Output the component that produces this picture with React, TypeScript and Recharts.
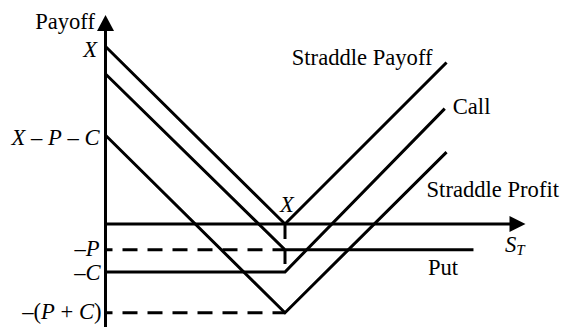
import React from 'react';
import { LineChart, Line, XAxis, YAxis, ReferenceLine, ReferenceDot } from 'recharts';

const FONT = "'Liberation Serif', 'Times New Roman', Times, serif";
const INK = '#000';

// Values in units where the strike price X = 10
const strikeX = 10;
const putLevel = -1.45; // −P
const callLevel = -2.7; // −C
const totalLevel = -5; // −(P + C)
const payoffAtZero = 10; // X
const profitAtZero = 5; // X − P − C

const straddlePayoff = [
  { s: 0, v: 10 },
  { s: 10, v: 0 },
  { s: 19, v: 9.1 },
];
const putLine = [
  { s: 0, v: 8.45 },
  { s: 10, v: -1.45 },
  { s: 20.5, v: -1.45 },
];
const callLine = [
  { s: 0, v: -2.7 },
  { s: 10, v: -2.7 },
  { s: 18.9, v: 6.5 },
];
const straddleProfit = [
  { s: 0, v: 5 },
  { s: 10, v: -5 },
  { s: 19, v: 4.05 },
];
const dashPut = [
  { s: 0, v: -1.45 },
  { s: 10, v: -1.45 },
];
const dashTotal = [
  { s: 0, v: -5 },
  { s: 10, v: -5 },
];
const dashStrike = [
  { s: 10, v: 0 },
  { s: 10, v: -2.7 },
];

const xAxisEnd = 23.4;
const yAxisTop = 11.77;
const yAxisBottom = -6;

const seriesNames = ['Straddle Payoff', 'Call', 'Straddle Profit', 'Put'];
const axisNames = ['Payoff'];

const FS = 22.6;

const I = ({ children }: any) => <tspan fontStyle="italic">{children}</tspan>;

const textShape =
  (dx: number, dy: number, anchor: string, content: any, size = FS) =>
  (p: any) => (
    <text
      x={p.cx + dx}
      y={p.cy + dy}
      textAnchor={anchor}
      fontFamily={FONT}
      fontSize={size}
      fill={INK}
    >
      {content}
    </text>
  );

const lineProps = {
  type: 'linear' as const,
  dataKey: 'v',
  stroke: INK,
  strokeWidth: 3,
  dot: false,
  activeDot: false,
  isAnimationActive: false,
  strokeLinecap: 'butt' as const,
  strokeLinejoin: 'miter' as const,
};

export default function App() {
  return (
    <div style={{ width: 565, height: 327, background: '#fff' }}>
      <style>{'body{margin:0}'}</style>
      <LineChart
        width={565}
        height={327}
        margin={{ top: 2.125, right: 10.75, bottom: 5.375, left: 105.5 }}
      >
        <XAxis type="number" dataKey="s" domain={[0, 25]} hide allowDataOverflow />
        <YAxis type="number" domain={[-5.5, 12.5]} hide allowDataOverflow />

        <ReferenceLine
          segment={[
            { x: 0, y: yAxisBottom },
            { x: 0, y: yAxisTop - 0.9 },
          ]}
          stroke={INK}
          strokeWidth={3}
          ifOverflow="visible"
        />
        <ReferenceLine
          segment={[
            { x: 0, y: 0 },
            { x: xAxisEnd - 0.85, y: 0 },
          ]}
          stroke={INK}
          strokeWidth={3}
          ifOverflow="visible"
        />

        <Line {...lineProps} data={dashPut} strokeDasharray="15 10" strokeDashoffset={8} />
        <Line {...lineProps} data={dashTotal} strokeDasharray="15 10" strokeDashoffset={8} />
        <Line {...lineProps} data={dashStrike} strokeDasharray="15 10" />

        <Line {...lineProps} data={straddlePayoff} />
        <Line {...lineProps} data={putLine} />
        <Line {...lineProps} data={callLine} />
        <Line {...lineProps} data={straddleProfit} />

        {/* arrow heads */}
        <ReferenceDot
          x={0}
          y={yAxisTop}
          r={0}
          shape={(p: any) => (
            <polygon
              points={`${p.cx},${p.cy} ${p.cx - 8.5},${p.cy + 16} ${p.cx + 8.5},${p.cy + 16}`}
              fill={INK}
            />
          )}
        />
        <ReferenceDot
          x={xAxisEnd}
          y={0}
          r={0}
          shape={(p: any) => (
            <polygon
              points={`${p.cx},${p.cy} ${p.cx - 16},${p.cy - 8} ${p.cx - 16},${p.cy + 8}`}
              fill={INK}
            />
          )}
        />

        {/* axis labels */}
        <ReferenceDot x={0} y={yAxisTop} r={0} shape={textShape(-10.5, 14, 'end', axisNames[0])} />
        <ReferenceDot
          x={xAxisEnd}
          y={0}
          r={0}
          shape={textShape(
            -20.5,
            28,
            'start',
            <>
              <I>S</I>
              <tspan fontStyle="italic" fontSize={15} dy={3}>
                T
              </tspan>
            </>
          )}
        />

        {/* y tick labels */}
        <ReferenceDot x={0} y={payoffAtZero} r={0} shape={textShape(-8.5, 10, 'end', <I>X</I>)} />
        <ReferenceDot
          x={0}
          y={profitAtZero}
          r={0}
          shape={textShape(
            -6,
            10,
            'end',
            <>
              <I>X</I>
              {' – '}
              <I>P</I>
              {' – '}
              <I>C</I>
            </>
          )}
        />
        <ReferenceDot
          x={0}
          y={putLevel}
          r={0}
          shape={textShape(-6, 6.5, 'end', <>{'–'}<I>P</I></>)}
        />
        <ReferenceDot
          x={0}
          y={callLevel}
          r={0}
          shape={textShape(-5, 8, 'end', <>{'–'}<I>C</I></>)}
        />
        <ReferenceDot
          x={0}
          y={totalLevel}
          r={0}
          shape={textShape(
            -4,
            6.5,
            'end',
            <>
              {'–('}
              <I>P</I>
              {' + '}
              <I>C</I>
              {')'}
            </>
          )}
        />
        <ReferenceDot x={strikeX} y={0} r={0} shape={textShape(2, -12, 'middle', <I>X</I>)} />

        {/* series labels */}
        <ReferenceDot x={19} y={9.1} r={0} shape={textShape(-14, 3, 'end', seriesNames[0])} />
        <ReferenceDot x={18.9} y={6.5} r={0} shape={textShape(8, 5, 'start', seriesNames[1])} />
        <ReferenceDot x={19} y={4.05} r={0} shape={textShape(-20, 45, 'start', seriesNames[2])} />
        <ReferenceDot x={20.5} y={putLevel} r={0} shape={textShape(-45.5, 25.5, 'start', seriesNames[3])} />
      </LineChart>
    </div>
  );
}
